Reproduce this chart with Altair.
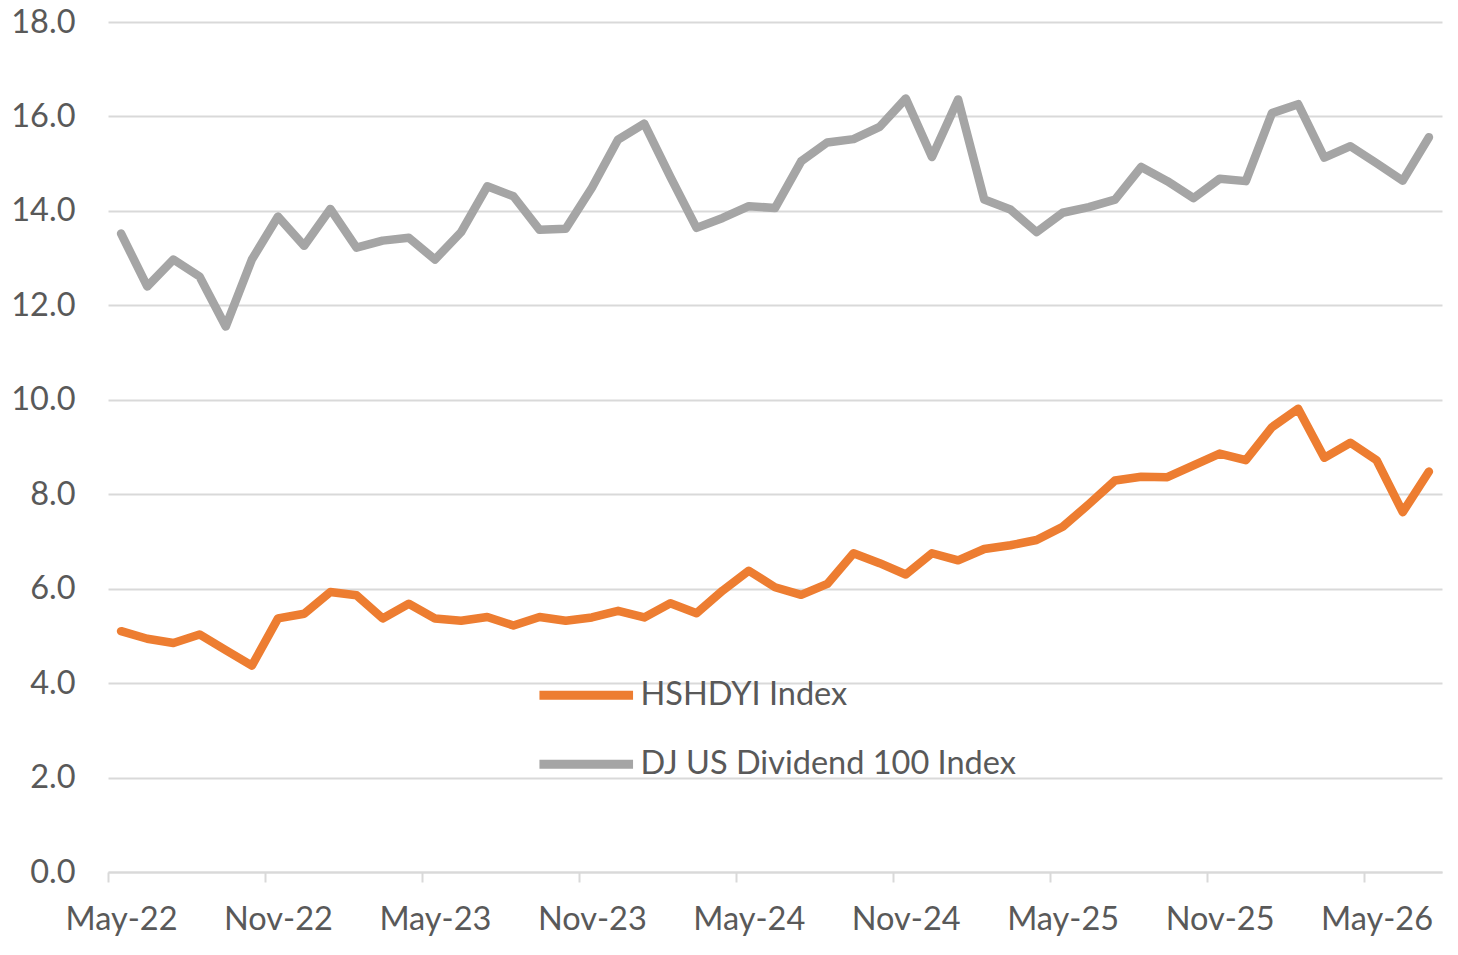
import altair as alt
import pandas as pd

months = [
    "May-22", "Jun-22", "Jul-22", "Aug-22", "Sep-22", "Oct-22", "Nov-22", "Dec-22",
    "Jan-23", "Feb-23", "Mar-23", "Apr-23", "May-23", "Jun-23", "Jul-23", "Aug-23",
    "Sep-23", "Oct-23", "Nov-23", "Dec-23", "Jan-24", "Feb-24", "Mar-24", "Apr-24",
    "May-24", "Jun-24", "Jul-24", "Aug-24", "Sep-24", "Oct-24", "Nov-24", "Dec-24",
    "Jan-25", "Feb-25", "Mar-25", "Apr-25", "May-25", "Jun-25", "Jul-25", "Aug-25",
    "Sep-25", "Oct-25", "Nov-25", "Dec-25", "Jan-26", "Feb-26", "Mar-26", "Apr-26",
    "May-26", "Jun-26", "Jul-26",
]

hshdyi = [
    5.10, 4.94, 4.85, 5.03, 4.70, 4.37, 5.37, 5.47, 5.93, 5.86,
    5.37, 5.68, 5.37, 5.32, 5.40, 5.22, 5.40, 5.32, 5.39, 5.53,
    5.39, 5.69, 5.48, 5.96, 6.38, 6.03, 5.87, 6.10, 6.75, 6.54,
    6.30, 6.75, 6.60, 6.84, 6.92, 7.03, 7.31, 7.79, 8.29, 8.37,
    8.36, 8.61, 8.86, 8.72, 9.42, 9.81, 8.77, 9.09, 8.72, 7.62,
    8.48,
]

djus = [
    13.52, 12.40, 12.97, 12.61, 11.55, 12.97, 13.88, 13.26, 14.04, 13.22,
    13.37, 13.43, 12.97, 13.55, 14.52, 14.31, 13.60, 13.62, 14.49, 15.51,
    15.85, 14.72, 13.64, 13.85, 14.10, 14.06, 15.05, 15.45, 15.52, 15.78,
    16.38, 15.14, 16.36, 14.24, 14.03, 13.55, 13.96, 14.08, 14.24, 14.93,
    14.63, 14.27, 14.68, 14.63, 16.07, 16.26, 15.13, 15.37, 15.01, 14.64,
    15.56,
]

series_names = ["HSHDYI Index", "DJ US Dividend 100 Index"]
series_colors = ["#ED7D31", "#A5A5A5"]
y_ticks = [0, 2, 4, 6, 8, 10, 12, 14, 16, 18]
tick_labels = months[::6]

rows = []
for i, m in enumerate(months):
    rows.append({"idx": i, "month": m, "series": series_names[0], "value": hshdyi[i]})
    rows.append({"idx": i, "month": m, "series": series_names[1], "value": djus[i]})
df = pd.DataFrame(rows)

label_js = "[" + ",".join("'" + t + "'" for t in tick_labels) + "]"
FONT = "Lato"
TXT = "#595959"
GRID = "#D9D9D9"
FS = 32.5

x_axis = alt.Axis(
    values=[i - 0.5 for i in range(0, len(months), 6)],
    labelExpr=label_js + "[round((datum.value + 0.5) / 6)]",
    labelOffset=13,
    labelFlush=False,
    labelOverlap=False,
    grid=False,
    tickSize=10,
    tickColor=GRID,
    tickWidth=2,
    domainColor=GRID,
    domainWidth=2,
    labelFont=FONT,
    labelFontSize=FS,
    labelColor=TXT,
    labelPadding=21,
    title=None,
)

y_axis = alt.Axis(
    values=y_ticks,
    format=".1f",
    grid=True,
    gridColor=GRID,
    gridWidth=2,
    domain=False,
    ticks=False,
    labelFont=FONT,
    labelFontSize=FS,
    labelColor=TXT,
    labelPadding=33,
    title=None,
)

chart = (
    alt.Chart(df)
    .mark_line(strokeWidth=8.5, strokeCap="round", strokeJoin="round")
    .encode(
        x=alt.X("idx:Q", scale=alt.Scale(domain=[-0.5, len(months) - 0.5], nice=False, zero=False), axis=x_axis),
        y=alt.Y("value:Q", scale=alt.Scale(domain=[0, 18], nice=False), axis=y_axis),
        color=alt.Color(
            "series:N",
            scale=alt.Scale(domain=series_names, range=series_colors),
            legend=alt.Legend(
                title=None,
                orient="none",
                legendX=462,
                legendY=657,
                symbolType="M-5.2,0H5.2",
                symbolSize=324,
                symbolStrokeWidth=9,
                labelOffset=38,
                labelFont=FONT,
                labelFontSize=FS,
                labelColor=TXT,
                rowPadding=32,
                padding=0,
                labelLimit=600,
            ),
        ),
        order=alt.Order("idx:Q"),
    )
    .properties(
        width=1334,
        height=850,
        autosize=alt.AutoSizeParams(type="none"),
        padding={"left": 100, "top": 14, "right": 8, "bottom": 75},
        background="white",
    )
    .configure_view(stroke=None)
)

chart.save("out.html", embed_options={"renderer": "svg", "actions": False})
